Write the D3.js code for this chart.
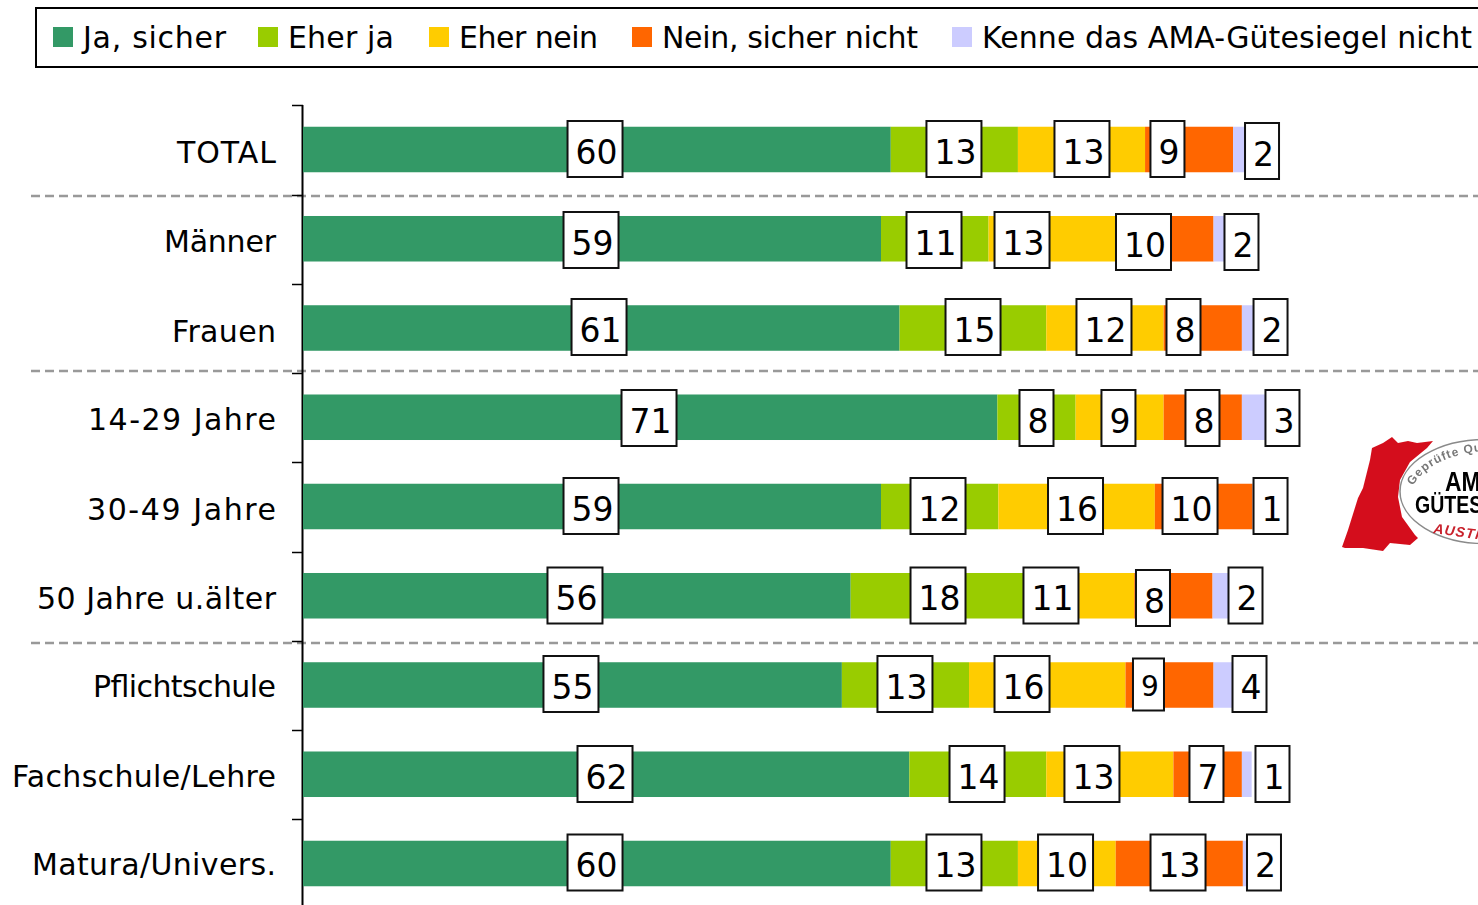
<!DOCTYPE html>
<html><head><meta charset="utf-8">
<script src="https://cdn.jsdelivr.net/npm/d3@7"></script>
<style>html,body{margin:0;padding:0;background:#fff;overflow:hidden}svg{display:block}text{font-family:Verdana,"DejaVu Sans",sans-serif;fill:#000}</style>
</head><body><svg id="c" width="1478" height="905"></svg>
<script>
const categories=["TOTAL","Männer","Frauen","14-29 Jahre","30-49 Jahre","50 Jahre u.älter","Pflichtschule","Fachschule/Lehre","Matura/Univers."];
const seriesNames=["Ja, sicher","Eher ja","Eher nein","Nein, sicher nicht","Kenne das AMA-Gütesiegel nicht"];
const colors=["#339966","#99CC00","#FFCC00","#FF6600","#CCCCFF"];
const jaSicher=[60.1,59.1,61,71,59.1,56,55.1,62,60.1];
const eherJa=[13,11,15,8,12,18,13,14,13];
const eherNein=[13,13,12,9,16,11,16,13,10];
const neinSicher=[9,10,8,8,10,8,9,7,13];
const kenne=[2,2,2,3,1,2,4,1,2];
const seriesValues=[jaSicher,eherJa,eherNein,neinSicher,kenne];
const groupBreaksAfter=["TOTAL","Frauen","50 Jahre u.älter"];

// where each value label sits on the percent axis (the labels were moved by hand in the source)
const labelAt=[
 [29.86,66.56,79.65,88.39,98.06],
 [29.45,64.52,73.52,85.94,95.96],
 [30.27,68.51,81.90,90.03,98.93],
 [35.38,75.00,83.38,91.97,100.15],
 [29.45,64.93,78.99,90.70,98.93],
 [27.81,64.93,76.48,86.91,96.37],
 [27.40,61.55,73.52,86.45,96.78],
 [30.88,68.92,80.67,92.38,99.13],
 [29.86,66.56,77.97,89.47,98.26]];
const rowLabelShift=[-0.5,1.25,-1,0.75,-0.5,-0.25,-1,-0.25,-1];
const cellLabelShift={"0|4":1.5,"1|3":3.25,"1|4":3.25,"5|3":2.25,"6|3":-0.5};
const legendWidths=[143,106,139,256,490];
const categoryWidths=[99,112,104,188,189,239,183,264,244];
const categoryShift=[0,0,1,0,0,0,-1,0,-2];

const svg=d3.select("#c");
const x=d3.scaleLinear().domain([0,100]).range([303,1281]);
const y=d3.scaleBand().domain(categories).range([104.875,908.125]).paddingInner(0.49).paddingOuter(0.245);
const step=y.step();

// legend
svg.append("rect").attr("x",36).attr("y",8).attr("width",1500).attr("height",59).attr("fill","#fff").attr("stroke","#000").attr("stroke-width",2);
const legendX=[53,258,429,632,952];
const legendTextX=[83,288,459,662,982];
seriesNames.forEach((n,i)=>{
  svg.append("rect").attr("x",legendX[i]).attr("y",27).attr("width",20).attr("height",20).attr("fill",colors[i]);
  svg.append("text").attr("x",legendTextX[i]).attr("y",48).attr("font-size",30)
    .attr("textLength",legendWidths[i]).attr("lengthAdjust","spacing").text(n);
});

// separators
const sepY=[196,371,643];
groupBreaksAfter.forEach((c,i)=>{
  svg.append("line").attr("x1",31).attr("x2",1478).attr("y1",sepY[i]).attr("y2",sepY[i])
    .attr("stroke","#999").attr("stroke-width",2.5).attr("stroke-dasharray","9 5");
});

// axis
const ax=svg.append("g");
d3.range(categories.length+1).forEach(i=>{
  const yy=Math.round(y.range()[0]+i*step+0.5)+0.5;
  ax.append("line").attr("x1",292).attr("x2",303).attr("y1",yy).attr("y2",yy).attr("stroke","#000").attr("stroke-width",1.5);
});
ax.append("line").attr("x1",302.5).attr("x2",302.5).attr("y1",105).attr("y2",905).attr("stroke","#000").attr("stroke-width",2);
categories.forEach((c,i)=>{
  svg.append("text").attr("x",276).attr("y",y(c)+y.bandwidth()/2+13+categoryShift[i]).attr("text-anchor","end").attr("font-size",30)
    .attr("textLength",categoryWidths[i]).attr("lengthAdjust","spacing").text(c);
});

// stacks
const table=categories.map((c,i)=>{const o={cat:c};seriesNames.forEach((n,s)=>o[n]=seriesValues[s][i]);return o;});
const stacked=d3.stack().keys(seriesNames)(table);
stacked.forEach((s,si)=>{
  svg.append("g").selectAll("rect").data(s).join("rect")
    .attr("x",d=>x(d[0])).attr("width",d=>x(d[1])-x(d[0]))
    .attr("y",d=>y(d.data.cat)).attr("height",y.bandwidth()).attr("fill",colors[si]);
});

// value labels
stacked.forEach((s,si)=>{
  const items=s.map((d,ri)=>({v:Math.round(d[1]-d[0]),ri,cat:d.data.cat}));
  const small=d=>d.ri===6&&si===3;
  const dy=d=>cellLabelShift[d.ri+"|"+si]!==undefined?cellLabelShift[d.ri+"|"+si]:rowLabelShift[d.ri];
  const g=svg.append("g").selectAll("g").data(items).join("g")
    .attr("transform",d=>`translate(${x(labelAt[d.ri][si])},${y(d.cat)+y.bandwidth()/2+dy(d)})`);
  const w=d=>small(d)?31:(String(d.v).length>1?55:34);
  const h=d=>small(d)?52:56;
  g.append("rect").attr("x",d=>-w(d)/2).attr("y",d=>-h(d)/2).attr("width",w).attr("height",h)
    .attr("fill","#fff").attr("stroke","#111").attr("stroke-width",2);
  g.append("text").attr("text-anchor","middle").attr("x",1.5).attr("y",d=>small(d)?11:14.5).attr("font-size",d=>small(d)?28:33).text(d=>d.v);
});

// logo (raster in the source, slightly soft)
const defs=svg.append("defs");
defs.append("filter").attr("id","soft").append("feGaussianBlur").attr("stdDeviation",0.6);
defs.append("path").attr("id","arc").attr("d","M1413 486 Q1432 452 1500 450");
const logo=svg.append("g").attr("filter","url(#soft)");
const narrow='"Liberation Sans Narrow","Liberation Sans",sans-serif';
logo.append("path").attr("d","M1342 547 L1348 530 L1358 498 L1363 488 L1370 460 L1372 448 L1383 443 L1392 437 L1398 443 L1408 441 L1417 443 L1433 441 L1427 448 L1410 462 L1400 480 L1398 497 L1402 517 L1415 535 L1418 538 L1410 545 L1390 543 L1383 551 L1363 548 L1345 548 Z").attr("fill","#d40f1c");
logo.append("ellipse").attr("cx",1485).attr("cy",491.5).attr("rx",85).attr("ry",52).attr("fill","#fff").attr("stroke","#8a8a8a").attr("stroke-width",1.5);
logo.append("text").attr("x",1445).attr("y",491).attr("font-size",28).attr("font-weight",700).style("font-family",narrow).attr("textLength",52).attr("lengthAdjust","spacingAndGlyphs").text("AMA");
logo.append("text").attr("x",1415).attr("y",513).attr("font-size",24).attr("font-weight",700).style("font-family",narrow).attr("textLength",126).attr("lengthAdjust","spacingAndGlyphs").text("GÜTESIEGEL");
logo.append("text").attr("x",1433).attr("y",533).attr("font-size",14).attr("font-weight",700).attr("font-style","italic").style("fill","#c8202c").style("letter-spacing","1px").style("font-family",narrow).attr("transform","rotate(8 1433 533)").text("AUSTRIA");
logo.append("text").attr("font-size",12).attr("font-weight",700).style("fill","#777").style("font-family",narrow).style("letter-spacing","1px").append("textPath").attr("href","#arc").text("Geprüfte Qualität");
</script></body></html>
